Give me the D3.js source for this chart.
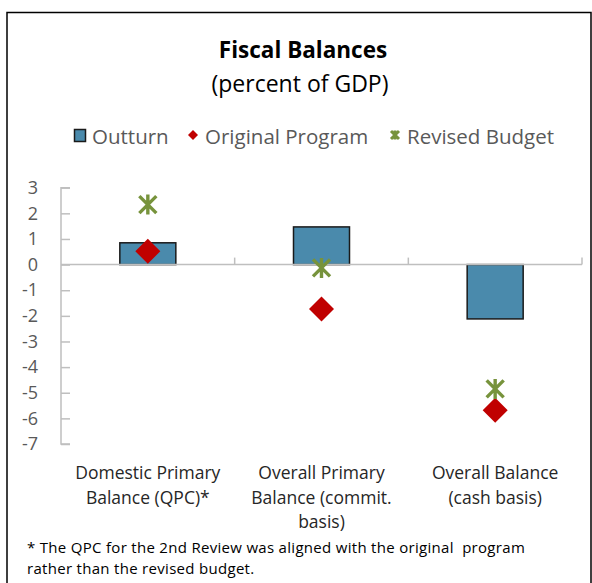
<!DOCTYPE html>
<html>
<head>
<meta charset="utf-8">
<script src="https://cdn.jsdelivr.net/npm/d3@7"></script>
<style>
  html, body { margin: 0; padding: 0; background: #fff; }
  svg { display: block; font-family: "Open Sans", "Noto Sans", sans-serif; }
</style>
</head>
<body>
<svg id="chart" width="592" height="583"></svg>
<script>
// Fiscal balances by measure, percent of GDP
const categories = [
  ["Domestic Primary", "Balance (QPC)*"],
  ["Overall Primary", "Balance (commit.", "basis)"],
  ["Overall Balance", "(cash basis)"]
];
const outturn = [0.85, 1.47, -2.12];
const originalProgram = [0.52, -1.73, -5.68];
const revisedBudget = [2.34, -0.13, -4.85];
const yTicks = [3, 2, 1, 0, -1, -2, -3, -4, -5, -6, -7];
const seriesNames = ["Outturn", "Original Program", "Revised Budget"];
const footnote = [
  "* The QPC for the 2nd Review was aligned with the original  program",
  "rather than the revised budget."
];

const svg = d3.select("#chart");
const barColor = "#4a8aac", diamondColor = "#c00000", starColor = "#77933c";
const axisColor = "#bfbfbf", textColor = "#595959";

// outer frame
svg.append("path")
  .attr("d", "M7,583 V12.5 H591 V583")
  .attr("fill", "none").attr("stroke", "#000").attr("stroke-width", 1.5);

// titles
svg.append("text").attr("x", 303).attr("y", 58).attr("text-anchor", "middle")
  .attr("font-size", 22.5).attr("font-weight", "bold").attr("fill", "#000")
  .text("Fiscal Balances");
svg.append("text").attr("x", 300).attr("y", 92).attr("text-anchor", "middle")
  .attr("font-size", 23).attr("fill", "#000")
  .text("(percent of GDP)");

const x = d3.scaleBand().domain(d3.range(categories.length)).range([61, 582]);
const y = d3.scaleLinear().domain([-7, 3]).range([444, 187.7]);

// y axis
const yAxis = svg.append("g").attr("transform", "translate(61,0)")
  .call(d3.axisRight(y).tickValues(yTicks).tickSize(9).tickFormat(d3.format("d")));
yAxis.select(".domain").attr("stroke", axisColor).attr("stroke-width", 1.5)
  .attr("d", `M9,${y(3)}H0V${y(-7)}H9`);
yAxis.selectAll(".tick line").attr("stroke", axisColor).attr("stroke-width", 1.5);
yAxis.selectAll(".tick text").attr("x", -23).attr("text-anchor", "end")
  .attr("font-size", 18).attr("fill", textColor).attr("font-family", "Open Sans, sans-serif")
  .text(d => d < 0 ? "-" + Math.abs(d) : d);

// bars
svg.append("g").selectAll("rect").data(outturn).join("rect")
  .attr("x", (d, i) => x(i) + x.bandwidth() / 2 - 28)
  .attr("width", 56)
  .attr("y", d => y(Math.max(0, d)))
  .attr("height", d => Math.abs(y(d) - y(0)))
  .attr("fill", barColor).attr("stroke", "#1a1a1a").attr("stroke-width", 1.5);

// x axis along zero with category dividers
const xAxis = svg.append("g").attr("transform", `translate(0,${y(0)})`);
xAxis.append("line").attr("x1", 61).attr("x2", 582)
  .attr("stroke", axisColor).attr("stroke-width", 1.5);
xAxis.selectAll("line.div").data(d3.range(1, categories.length + 1)).join("line")
  .attr("class", "div")
  .attr("x1", i => x(i - 1) + x.bandwidth()).attr("x2", i => x(i - 1) + x.bandwidth())
  .attr("y1", 0).attr("y2", -7)
  .attr("stroke", axisColor).attr("stroke-width", 1.5);

// category labels
const catG = svg.append("g");
categories.forEach((lines, i) => {
  const t = catG.append("text").attr("text-anchor", "middle")
    .attr("font-size", 17.5).attr("fill", "#262626");
  lines.forEach((ln, j) => {
    t.append("tspan").attr("x", x(i) + x.bandwidth() / 2).attr("y", 479 + j * 24.5).text(ln);
  });
});

// marker shapes
const diamondPath = s => `M0,${-s}L${s},0L0,${s}L${-s},0Z`;
const starPath = (s, v) => `M${-s},${-s}L${s},${s}M${-s},${s}L${s},${-s}M0,${-v}V${v}`;

svg.append("g").selectAll("path").data(originalProgram).join("path")
  .attr("transform", (d, i) => `translate(${x(i) + x.bandwidth() / 2},${y(d)})`)
  .attr("d", diamondPath(12.5)).attr("fill", diamondColor);

svg.append("g").selectAll("path").data(revisedBudget).join("path")
  .attr("transform", (d, i) => `translate(${x(i) + x.bandwidth() / 2},${y(d)})`)
  .attr("d", starPath(8.5, 10)).attr("fill", "none")
  .attr("stroke", starColor).attr("stroke-width", 3.4);

// legend
const leg = svg.append("g");
leg.append("rect").attr("x", 74.5).attr("y", 129.5).attr("width", 11).attr("height", 12)
  .attr("fill", barColor).attr("stroke", "#1a1a1a").attr("stroke-width", 1.5);
leg.append("text").attr("x", 92).attr("y", 144).attr("font-size", 20.5).attr("fill", textColor)
  .text(seriesNames[0]);
leg.append("path").attr("transform", "translate(193,135)").attr("d", diamondPath(5))
  .attr("fill", diamondColor);
leg.append("text").attr("x", 205).attr("y", 144).attr("font-size", 20.5).attr("fill", textColor)
  .text(seriesNames[1]);
leg.append("path").attr("transform", "translate(395,135)").attr("d", starPath(4, 4.5))
  .attr("fill", "none").attr("stroke", starColor).attr("stroke-width", 3);
leg.append("text").attr("x", 407).attr("y", 144).attr("font-size", 20.5).attr("fill", textColor)
  .text(seriesNames[2]);

// footnote, one text element per line
svg.append("g").selectAll("text").data(footnote).join("text")
  .attr("x", 27).attr("y", (d, j) => 553 + j * 20.5)
  .attr("font-size", 15).attr("letter-spacing", 0.3).attr("fill", "#000")
  .attr("xml:space", "preserve")
  .text(d => d);
</script>
</body>
</html>
